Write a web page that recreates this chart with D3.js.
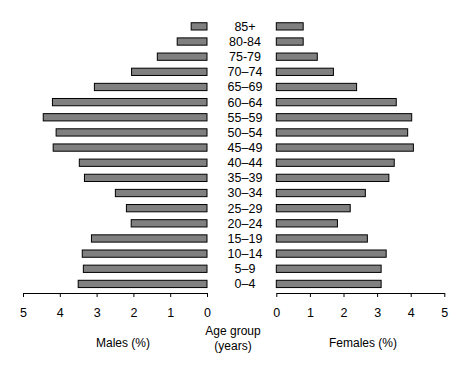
<!DOCTYPE html>
<html>
<head>
<meta charset="utf-8">
<script src="https://cdn.jsdelivr.net/npm/d3@7"></script>
<style>
  html, body { margin: 0; padding: 0; background: #fff; }
  text { font-family: "Liberation Sans", Arial, sans-serif; fill: #000; }
</style>
</head>
<body>
<svg id="chart" width="468" height="367"></svg>
<script>
const ageGroups = ["85+", "80-84", "75-79", "70–74", "65–69", "60–64", "55–59", "50–54", "45–49",
                   "40–44", "35–39", "30–34", "25–29", "20–24", "15–19", "10–14", "5–9", "0–4"];
const males   = [0.43, 0.81, 1.35, 2.05, 3.06, 4.20, 4.45, 4.10, 4.18,
                 3.47, 3.33, 2.49, 2.19, 2.06, 3.14, 3.39, 3.36, 3.50];
const females = [0.80, 0.80, 1.22, 1.70, 2.39, 3.57, 4.03, 3.91, 4.08,
                 3.51, 3.35, 2.65, 2.20, 1.82, 2.71, 3.27, 3.12, 3.12];
const tickValues = [0, 1, 2, 3, 4, 5];
const maleLabel = "Males (%)";
const femaleLabel = "Females (%)";
const centerLabel = ["Age group", "(years)"];

const svg = d3.select("#chart");

const y = d3.scaleBand().domain(ageGroups).range([18.8, 291.5])
  .paddingInner(0.52).paddingOuter(0.26);
const xL = d3.scaleLinear().domain([0, 5]).range([207, 23]);
const xR = d3.scaleLinear().domain([0, 5]).range([276.3, 444.3]);

// male bars
svg.append("g").selectAll("rect").data(ageGroups).join("rect")
  .attr("x", (d, i) => xL(males[i]))
  .attr("y", d => y(d))
  .attr("width", (d, i) => xL(0) - xL(males[i]))
  .attr("height", y.bandwidth())
  .attr("fill", "#808080").attr("stroke", "#000").attr("stroke-width", 1);

// female bars
svg.append("g").selectAll("rect").data(ageGroups).join("rect")
  .attr("x", xR(0))
  .attr("y", d => y(d))
  .attr("width", (d, i) => xR(females[i]) - xR(0))
  .attr("height", y.bandwidth())
  .attr("fill", "#808080").attr("stroke", "#000").attr("stroke-width", 1);

// age labels
svg.append("g").selectAll("text").data(ageGroups).join("text")
  .attr("x", 245)
  .attr("y", d => y(d) + y.bandwidth() / 2)
  .attr("dy", "0.35em")
  .attr("text-anchor", "middle")
  .style("font-size", "12.5px")
  .text(d => d);

// axes
const axisY = 293;
function styleAxis(g) {
  g.selectAll("path").attr("stroke", "#000");
  g.selectAll("line").attr("stroke", "#000");
  g.selectAll("text").style("font-size", "12.5px").style("font-family", '"Liberation Sans", Arial, sans-serif');
}
svg.append("g").attr("transform", `translate(0,${axisY})`)
  .call(d3.axisBottom(xL).tickValues(tickValues).tickFormat(d3.format("d")).tickSize(4).tickSizeOuter(0).tickPadding(11))
  .call(styleAxis);
svg.append("g").attr("transform", `translate(0,${axisY})`)
  .call(d3.axisBottom(xR).tickValues(tickValues).tickFormat(d3.format("d")).tickSize(4).tickSizeOuter(0).tickPadding(11))
  .call(styleAxis);

// axis titles
svg.append("text").attr("x", 123).attr("y", 343).attr("dy", "0.35em")
  .attr("text-anchor", "middle").style("font-size", "12px").text(maleLabel);
svg.append("text").attr("x", 363).attr("y", 343).attr("dy", "0.35em")
  .attr("text-anchor", "middle").style("font-size", "12px").text(femaleLabel);
svg.append("g").selectAll("text").data(centerLabel).join("text")
  .attr("x", 233).attr("y", (d, i) => 331 + i * 14.5).attr("dy", "0.35em")
  .attr("text-anchor", "middle").style("font-size", "12px").text(d => d);
</script>
</body>
</html>
